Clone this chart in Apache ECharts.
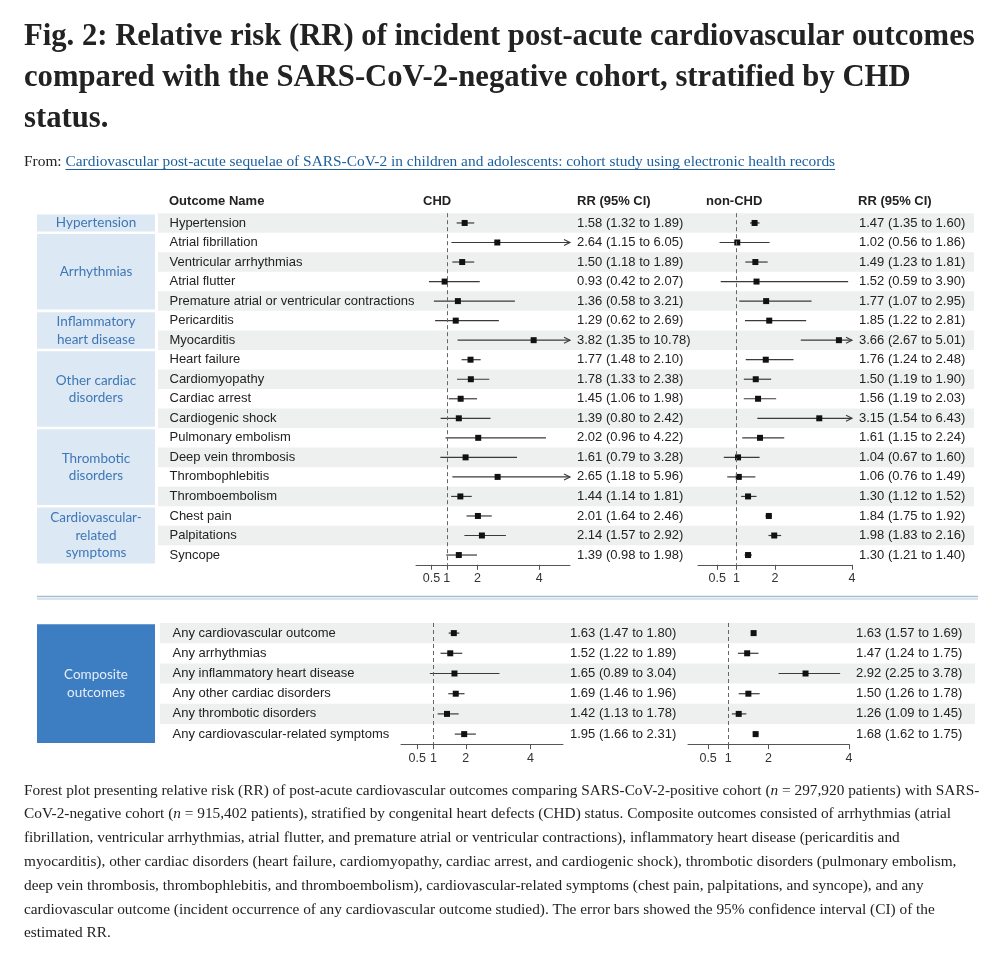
<!DOCTYPE html>
<html><head><meta charset="utf-8">
<script src="https://cdn.jsdelivr.net/npm/echarts@6/dist/echarts.min.js"></script>
<style>html,body{margin:0;padding:0;background:#fff}#c{width:1000px;height:954px}</style>
</head><body><div id="c"></div>
<script>
// ---------- DATA ----------
const outcomeNames = ['Hypertension','Atrial fibrillation','Ventricular arrhythmias','Atrial flutter',
  'Premature atrial or ventricular contractions','Pericarditis','Myocarditis','Heart failure','Cardiomyopathy',
  'Cardiac arrest','Cardiogenic shock','Pulmonary embolism','Deep vein thrombosis','Thrombophlebitis',
  'Thromboembolism','Chest pain','Palpitations','Syncope'];
const groupNames = ['Hypertension','Arrhythmias','Inflammatory\nheart disease','Other cardiac\ndisorders',
  'Thrombotic\ndisorders','Cardiovascular-\nrelated\nsymptoms'];
const groupStart = [0,1,5,7,11,15];
const groupEnd   = [0,4,6,10,14,17];

const chdRR = [1.58,2.64,1.50,0.93,1.36,1.29,3.82,1.77,1.78,1.45,1.39,2.02,1.61,2.65,1.44,2.01,2.14,1.39];
const chdLo = [1.32,1.15,1.18,0.42,0.58,0.62,1.35,1.48,1.33,1.06,0.80,0.96,0.79,1.18,1.14,1.64,1.57,0.98];
const chdHi = [1.89,6.05,1.89,2.07,3.21,2.69,10.78,2.10,2.38,1.98,2.42,4.22,3.28,5.96,1.81,2.46,2.92,1.98];

const nonRR = [1.47,1.02,1.49,1.52,1.77,1.85,3.66,1.76,1.50,1.56,3.15,1.61,1.04,1.06,1.30,1.84,1.98,1.30];
const nonLo = [1.35,0.56,1.23,0.59,1.07,1.22,2.67,1.24,1.19,1.19,1.54,1.15,0.67,0.76,1.12,1.75,1.83,1.21];
const nonHi = [1.60,1.86,1.81,3.90,2.95,2.81,5.01,2.48,1.90,2.03,6.43,2.24,1.60,1.49,1.52,1.92,2.16,1.40];

const compNames = ['Any cardiovascular outcome','Any arrhythmias','Any inflammatory heart disease',
  'Any other cardiac disorders','Any thrombotic disorders','Any cardiovascular-related symptoms'];
const compGroupName = 'Composite\noutcomes';
const compChdRR = [1.63,1.52,1.65,1.69,1.42,1.95];
const compChdLo = [1.47,1.22,0.89,1.46,1.13,1.66];
const compChdHi = [1.80,1.89,3.04,1.96,1.78,2.31];
const compNonRR = [1.63,1.47,2.92,1.50,1.26,1.68];
const compNonLo = [1.57,1.24,2.25,1.26,1.09,1.62];
const compNonHi = [1.69,1.75,3.78,1.78,1.45,1.75];

const tickValues = [0.5, 1, 2, 4];
const refValue = 1;
const chdAxisMax = 5;
const nonAxisMax = 4;

const headerLabels = ['Outcome Name','CHD','RR (95% CI)','non-CHD','RR (95% CI)'];
const titleLines = ['Fig. 2: Relative risk (RR) of incident post-acute cardiovascular outcomes',
  'compared with the SARS-CoV-2-negative cohort, stratified by CHD','status.'];
const fromLabel = 'From: ';
const linkText = 'Cardiovascular post-acute sequelae of SARS-CoV-2 in children and adolescents: cohort study using electronic health records';
const captionLines = [
  'Forest plot presenting relative risk (RR) of post-acute cardiovascular outcomes comparing SARS-CoV-2-positive cohort ({i|n} = 297,920 patients) with SARS-',
  'CoV-2-negative cohort ({i|n} = 915,402 patients), stratified by congenital heart defects (CHD) status. Composite outcomes consisted of arrhythmias (atrial',
  'fibrillation, ventricular arrhythmias, atrial flutter, and premature atrial or ventricular contractions), inflammatory heart disease (pericarditis and',
  'myocarditis), other cardiac disorders (heart failure, cardiomyopathy, cardiac arrest, and cardiogenic shock), thrombotic disorders (pulmonary embolism,',
  'deep vein thrombosis, thrombophlebitis, and thromboembolism), cardiovascular-related symptoms (chest pain, palpitations, and syncope), and any',
  'cardiovascular outcome (incident occurrence of any cardiovascular outcome studied). The error bars showed the 95% confidence interval (CI) of the',
  'estimated RR.'
];

// ---------- STYLE ----------
const SANS = '"Liberation Sans", Arial, Helvetica, sans-serif';
const SERIF = '"Liberation Serif", "Times New Roman", serif';
const GROUPFONT = 'Lato, "Noto Sans", sans-serif';
const CI_COLOR = '#3a3a3a';
const BAND = '#eef0f0';
const GROUP_BG = '#dce8f4';
const GROUP_TXT = '#3e77b6';
const COMP_BG = '#3d7dc1';
const TEXT = '#222';

const mctx = document.createElement('canvas').getContext('2d');
function fitSize(text, family, weight, target) {
  mctx.font = weight + ' 100px ' + family;
  return 100 * target / mctx.measureText(text).width;
}
function measure(text, family, weight, size) {
  mctx.font = weight + ' ' + size + 'px ' + family;
  return mctx.measureText(text).width;
}
const fmt = v => v.toFixed(2);

function txt(extra) {
  const s = Object.assign({fill: TEXT, fontFamily: SANS, fontSize: 13}, extra);
  if (s.textAlign) s.align = s.textAlign;
  if (s.textVerticalAlign) s.verticalAlign = s.textVerticalAlign;
  return s;
}

// ---------- RENDERERS ----------
function bandRender(names, nameOffset) {
  return function (params, api) {
    const i = api.value(1);
    const cs = params.coordSys;
    const c = api.coord([0, i]);
    const h = api.size([0, 1])[1];
    const ch = [];
    if (i % 2 === 0) ch.push({type: 'rect', shape: {x: cs.x, y: c[1] - h / 2, width: cs.width, height: h}, style: {fill: BAND}});
    ch.push({type: 'text', style: txt({text: names[params.dataIndex], x: cs.x + nameOffset, y: c[1],
      textAlign: 'left', textVerticalAlign: 'middle'})});
    return {type: 'group', children: ch};
  };
}
function groupRender(labels, bg, color) {
  return function (params, api) {
    const cs = params.coordSys;
    const h = api.size([0, 1])[1];
    const y0 = api.coord([0, api.value(1)])[1] - h / 2 + 1.3;
    const y1 = api.coord([0, api.value(2)])[1] + h / 2 - 1.3;
    return {type: 'group', children: [
      {type: 'rect', shape: {x: cs.x, y: y0, width: cs.width, height: y1 - y0}, style: {fill: bg}},
      {type: 'text', style: txt({text: labels[params.dataIndex], x: cs.x + cs.width / 2, y: (y0 + y1) / 2,
        fontFamily: GROUPFONT, fontSize: 13.5, lineHeight: 17.5, fill: color, textAlign: 'center', textVerticalAlign: 'middle'})}
    ]};
  };
}
function forestRender(axisMax) {
  return function (params, api) {
    const row = api.value(0), rr = api.value(1), lo = api.value(2), hi = api.value(3);
    const cs = params.coordSys;
    const a = api.coord([lo, row]);
    const b = api.coord([Math.min(hi, axisMax), row]);
    const p = api.coord([rr, row]);
    const ch = [
      {type: 'line', shape: {x1: a[0], y1: a[1], x2: b[0], y2: b[1]}, style: {stroke: CI_COLOR, lineWidth: 1.2}},
      {type: 'rect', shape: {x: p[0] - 3, y: p[1] - 3, width: 6, height: 6}, style: {fill: '#111'}},
      {type: 'text', style: txt({text: fmt(rr) + ' (' + fmt(lo) + ' to ' + fmt(hi) + ')', x: cs.x + cs.width + 7, y: p[1],
        textAlign: 'left', textVerticalAlign: 'middle'})}
    ];
    if (hi > axisMax) ch.push({type: 'polyline', shape: {points: [[b[0] - 6, b[1] - 3], [b[0], b[1]], [b[0] - 6, b[1] + 3]]},
      style: {stroke: CI_COLOR, lineWidth: 1.1, fill: null}});
    return {type: 'group', children: ch};
  };
}

// ---------- LAYOUT ----------
const TOP = {top: 213.2, height: 351.6};
const BOT = {top: 623, height: 121.2};
const grids = [
  Object.assign({left: 158, width: 816}, TOP),  // 0 band top
  Object.assign({left: 416, width: 154}, TOP),  // 1 CHD top
  Object.assign({left: 698, width: 154}, TOP),  // 2 non-CHD top
  Object.assign({left: 37, width: 118}, TOP),   // 3 groups top
  Object.assign({left: 160, width: 815}, BOT),  // 4 band bottom
  Object.assign({left: 401, width: 162}, BOT),  // 5 CHD bottom
  Object.assign({left: 688, width: 161}, BOT),  // 6 non-CHD bottom
  Object.assign({left: 37, width: 118}, BOT)    // 7 composite box
];
const forestGrids = {1: chdAxisMax, 2: nonAxisMax, 5: chdAxisMax, 6: nonAxisMax};
const xAxes = grids.map((g, i) => {
  if (forestGrids[i] === undefined) return {gridIndex: i, type: 'value', min: 0, max: 1, show: false};
  return {gridIndex: i, type: 'value', min: 0, max: forestGrids[i],
    axisLine: {show: true, lineStyle: {color: '#555', width: 1}},
    axisTick: {show: true, customValues: tickValues, length: 5, lineStyle: {color: '#555'}},
    axisLabel: {show: true, customValues: tickValues, formatter: v => String(v), color: '#333',
      fontFamily: SANS, fontSize: 12.5, margin: 7.5},
    splitLine: {show: false}};
});
const yAxes = grids.map((g, i) => ({gridIndex: i, type: 'category', inverse: true, show: false,
  data: i < 4 ? outcomeNames : compNames}));

function forestSeries(gi, rr, lo, hi, axisMax) {
  return {type: 'custom', xAxisIndex: gi, yAxisIndex: gi, clip: false, z: 3,
    renderItem: forestRender(axisMax),
    encode: {y: 0, x: [1, 2, 3]},
    data: rr.map((r, i) => [i, r, lo[i], hi[i]]),
    markLine: {silent: true, symbol: 'none', label: {show: false}, animation: false,
      lineStyle: {type: [4, 3], color: '#666', width: 1}, data: [{xAxis: refValue}]}};
}

const series = [
  {type: 'custom', xAxisIndex: 0, yAxisIndex: 0, z: 1, clip: false, renderItem: bandRender(outcomeNames, 11.5),
    encode: {x: 0, y: 1}, data: outcomeNames.map((n, i) => [0, i])},
  {type: 'custom', xAxisIndex: 3, yAxisIndex: 3, z: 1, clip: false, renderItem: groupRender(groupNames, GROUP_BG, GROUP_TXT),
    encode: {x: 0, y: [1, 2]}, data: groupNames.map((n, i) => [0, groupStart[i], groupEnd[i]])},
  forestSeries(1, chdRR, chdLo, chdHi, chdAxisMax),
  forestSeries(2, nonRR, nonLo, nonHi, nonAxisMax),
  {type: 'custom', xAxisIndex: 4, yAxisIndex: 4, z: 1, clip: false, renderItem: bandRender(compNames, 12.5),
    encode: {x: 0, y: 1}, data: compNames.map((n, i) => [0, i])},
  {type: 'custom', xAxisIndex: 7, yAxisIndex: 7, z: 1, clip: false, renderItem: groupRender([compGroupName], COMP_BG, '#e4edf8'),
    encode: {x: 0, y: [1, 2]}, data: [[0, 0, compNames.length - 1]]},
  forestSeries(5, compChdRR, compChdLo, compChdHi, chdAxisMax),
  forestSeries(6, compNonRR, compNonLo, compNonHi, nonAxisMax)
];

// ---------- TEXT GRAPHICS ----------
const titleSize = fitSize(titleLines[0], SERIF, 'bold', 951);
const fromSize = fitSize(fromLabel + linkText, SERIF, 'normal', 812);
const capSize = fitSize(captionLines[0].replace(/\{i\|n\}/g, 'n'), SERIF, 'normal', 956);
const fromW = measure(fromLabel, SERIF, 'normal', fromSize);
const linkW = measure(linkText, SERIF, 'normal', fromSize);
const LINK = '#1d5f9e';

const graphics = [];
titleLines.forEach((t, i) => graphics.push({type: 'text', x: 24, y: 37 + i * 41,
  style: txt({text: t, fontFamily: SERIF, fontWeight: 'bold', fontSize: titleSize, fill: TEXT, textAlign: 'left', textVerticalAlign: 'middle'})}));
graphics.push({type: 'text', x: 24, y: 162, style: txt({text: fromLabel, fontFamily: SERIF, fontSize: fromSize, textAlign: 'left', textVerticalAlign: 'middle'})});
graphics.push({type: 'text', x: 24 + fromW, y: 162, style: txt({text: linkText, fontFamily: SERIF, fontSize: fromSize, fill: LINK, textAlign: 'left', textVerticalAlign: 'middle'})});
graphics.push({type: 'line', shape: {x1: 24 + fromW, y1: 169.5, x2: 24 + fromW + linkW, y2: 169.5}, style: {stroke: LINK, lineWidth: 1}});

const headerX = [169, 423, 577, 706, 858];
headerLabels.forEach((t, i) => graphics.push({type: 'text', x: headerX[i], y: 201,
  style: txt({text: t, fontWeight: 'bold', textAlign: 'left', textVerticalAlign: 'middle'})}));

graphics.push({type: 'line', shape: {x1: 37, y1: 596.5, x2: 978, y2: 596.5}, style: {stroke: '#a8bdd3', lineWidth: 1.3}});
graphics.push({type: 'line', shape: {x1: 37, y1: 599, x2: 978, y2: 599}, style: {stroke: '#cddae8', lineWidth: 1.5}});

captionLines.forEach((t, i) => graphics.push({type: 'text', x: 24, y: 790.5 + i * 23.8,
  style: txt({text: t, fontFamily: SERIF, fontSize: capSize, textAlign: 'left', textVerticalAlign: 'middle',
    rich: {i: {fontFamily: SERIF, fontSize: capSize, fontStyle: 'italic', fill: TEXT}}})}));

const chart = echarts.init(document.getElementById('c'), null, {renderer: 'canvas', width: 1000, height: 954});
chart.setOption({
  animation: false,
  backgroundColor: '#fff',
  grid: grids,
  xAxis: xAxes,
  yAxis: yAxes,
  series: series,
  graphic: {elements: graphics}
});
</script></body></html>
